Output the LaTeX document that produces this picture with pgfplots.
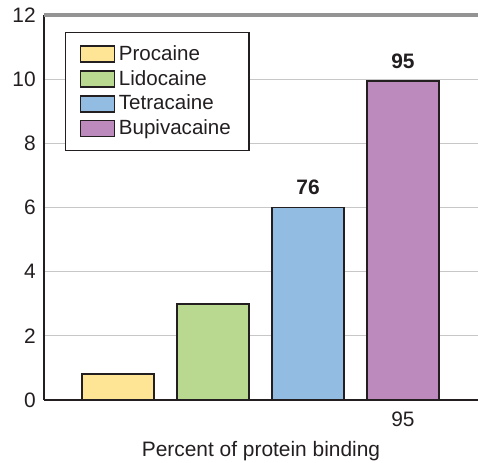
\documentclass[border=0pt]{standalone}
\usepackage{fontspec}
\setmainfont{Liberation Sans}
\usepackage{pgfplots}
\pgfplotsset{compat=1.18}
\definecolor{cProc}{HTML}{FDE595}
\definecolor{cLido}{HTML}{BAD990}
\definecolor{cTetra}{HTML}{93BCE3}
\definecolor{cBupi}{HTML}{BD8ABD}
\definecolor{txt}{HTML}{231F20}
\begin{document}
\begin{tikzpicture}
\useasboundingbox (-24.2pt,-34.65pt) rectangle (238.7pt,220pt);
\begin{axis}[
  at={(0pt,0pt)}, anchor=south west,
  scale only axis, clip=false,
  width=238.7pt, height=211.75pt,
  xmin=0.22, xmax=4.79,
  ymin=0, ymax=12,
  ytick={0,2,4,6,8,10,12},
  xtick={4}, xticklabels={95},
  major tick length=0pt,
  axis x line=bottom, axis y line=left,
  axis line style={-, line width=0.8pt, color=txt},
  ymajorgrids,
  grid style={line width=0.6pt, color=black!22},
  /pgf/number format/assume math mode=true,
  tick label style={font=\fontsize{11.5}{13}\selectfont, color=txt},
  yticklabel style={xshift=-1pt},
  xticklabel style={yshift=-3pt},
  xlabel={Percent of protein binding},
  xlabel style={font=\fontsize{11.5}{13}\selectfont, color=txt, yshift=-1pt},
  ybar, bar width=39.6pt,
  legend image code/.code={\draw[#1,line width=0.7pt] (0pt,-4.4pt) rectangle (18.7pt,4.4pt);},
  legend cell align=left,
  legend style={at={(0.048,0.956)}, anchor=north west, draw=txt, line width=0.7pt,
    font=\fontsize{11.3}{12.5}\selectfont, text=txt,
    inner xsep=8pt, inner ysep=5pt, row sep=0pt,
    /tikz/every even column/.append style={column sep=5pt}},
  every node near coord/.append style={font=\fontsize{11.5}{13}\selectfont\bfseries, color=txt, yshift=3pt},
]
\addplot[bar shift=0pt, fill=cProc, draw=txt, line width=0.9pt] coordinates {(1,0.82)};
\addlegendentry{Procaine}
\addplot[bar shift=0pt, fill=cLido, draw=txt, line width=0.9pt] coordinates {(2,3.0)};
\addlegendentry{Lidocaine}
\addplot[bar shift=0pt, fill=cTetra, draw=txt, line width=0.9pt, nodes near coords={76}] coordinates {(3,6.0)};
\addlegendentry{Tetracaine}
\addplot[bar shift=0pt, fill=cBupi, draw=txt, line width=0.9pt, nodes near coords={95}] coordinates {(4,9.95)};
\addlegendentry{Bupivacaine}
\draw[color=black!42, line width=2.5pt] (rel axis cs:0,1) -- (rel axis cs:1,1);
\end{axis}
\end{tikzpicture}
\end{document}
